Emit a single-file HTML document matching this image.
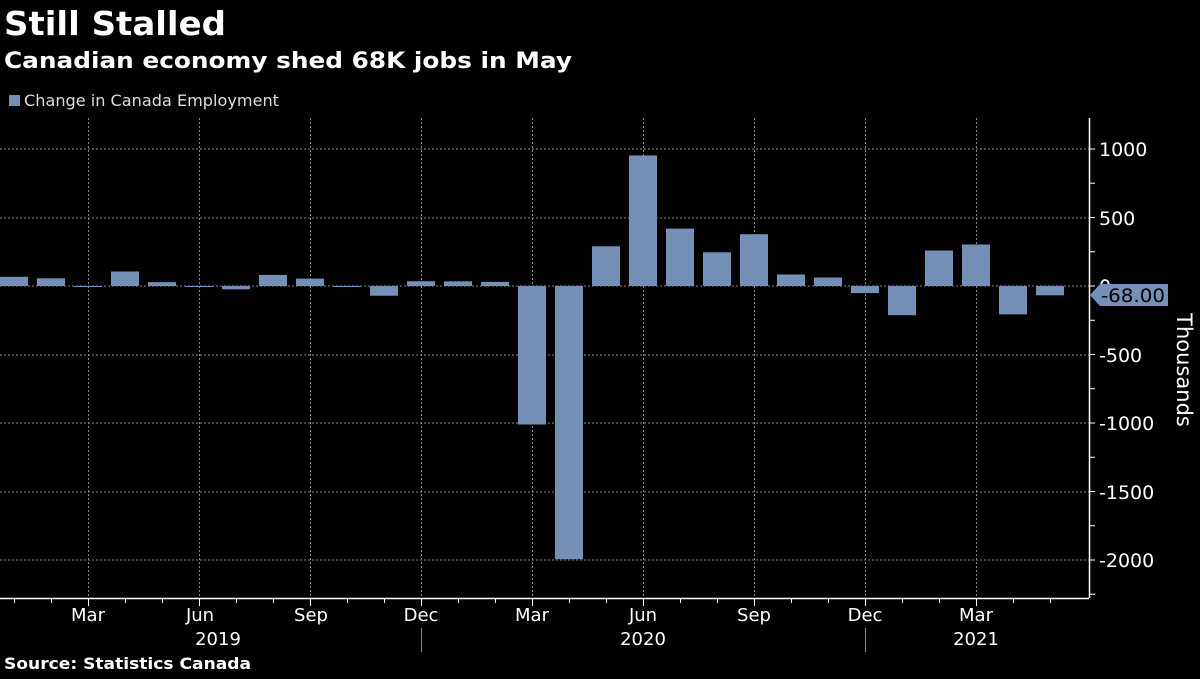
<!DOCTYPE html>
<html><head><meta charset="utf-8"><style>
body{margin:0;background:#000;width:1200px;height:675px;overflow:hidden;font-family:"DejaVu Sans",sans-serif;color:#fff}
</style></head><body>
<svg width="1200" height="675" xmlns="http://www.w3.org/2000/svg" font-family="DejaVu Sans, sans-serif">
<rect width="1200" height="675" fill="#000"/>
<text x="4" y="35" font-size="33" font-weight="bold" fill="#fff" textLength="222" lengthAdjust="spacingAndGlyphs">Still Stalled</text>
<text x="4" y="68" font-size="22" font-weight="bold" fill="#fff" textLength="568" lengthAdjust="spacingAndGlyphs">Canadian economy shed 68K jobs in May</text>
<rect x="9" y="95" width="11" height="11" fill="#7590b6"/>
<text x="24" y="106" font-size="16" fill="#ddd" textLength="255" lengthAdjust="spacingAndGlyphs">Change in Canada Employment</text>
<g stroke="#888" stroke-width="1" stroke-dasharray="2,2">
<line x1="0" x2="1089" y1="149" y2="149"/><line x1="0" x2="1089" y1="218" y2="218"/>
<line x1="0" x2="1089" y1="286" y2="286"/><line x1="0" x2="1089" y1="355" y2="355"/>
<line x1="0" x2="1089" y1="423" y2="423"/><line x1="0" x2="1089" y1="492" y2="492"/>
<line x1="0" x2="1089" y1="560" y2="560"/>
<line x1="88.5" x2="88.5" y1="118" y2="598"/><line x1="199.5" x2="199.5" y1="118" y2="598"/>
<line x1="310.5" x2="310.5" y1="118" y2="598"/><line x1="421.5" x2="421.5" y1="118" y2="598"/>
<line x1="532.5" x2="532.5" y1="118" y2="598"/><line x1="643.5" x2="643.5" y1="118" y2="598"/>
<line x1="754.5" x2="754.5" y1="118" y2="598"/><line x1="865.5" x2="865.5" y1="118" y2="598"/>
<line x1="976.5" x2="976.5" y1="118" y2="598"/>
</g>
<g fill="#7590b6" id="bars"></g>
<line x1="0" x2="1089" y1="598.5" y2="598.5" stroke="#fff" stroke-width="1.5"/>
<line x1="1089.5" x2="1089.5" y1="118" y2="598" stroke="#fff" stroke-width="1.5"/>
<g id="ticks" stroke="#fff"></g>
<g font-size="19" fill="#fff">
<text x="1099" y="156">1000</text><text x="1099" y="225">500</text><text x="1099" y="293">0</text>
<text x="1099" y="362">-500</text><text x="1099" y="430">-1000</text><text x="1099" y="499">-1500</text><text x="1099" y="567">-2000</text>
</g>
<polygon points="1090,295 1100,284 1168,284 1168,306 1100,306" fill="#7590b6"/>
<text x="1101" y="302" font-size="19" fill="#000" textLength="64" lengthAdjust="spacingAndGlyphs">-68.00</text>
<text transform="translate(1177,370) rotate(90)" font-size="21" fill="#fff" text-anchor="middle">Thousands</text>
<g font-size="18" fill="#fff" text-anchor="middle">
<text x="88" y="621">Mar</text><text x="200" y="621">Jun</text><text x="311" y="621">Sep</text><text x="421" y="621">Dec</text>
<text x="532" y="621">Mar</text><text x="643" y="621">Jun</text><text x="754" y="621">Sep</text><text x="865" y="621">Dec</text><text x="976" y="621">Mar</text>
<text x="218" y="645">2019</text><text x="643" y="645">2020</text><text x="976" y="645">2021</text>
</g>
<line x1="421.5" x2="421.5" y1="628" y2="652" stroke="#888"/>
<line x1="865.5" x2="865.5" y1="628" y2="652" stroke="#888"/>
<text x="4" y="669" font-size="16" font-weight="bold" fill="#fff" textLength="247" lengthAdjust="spacingAndGlyphs">Source: Statistics Canada</text>
<script>
var v=[67,56,-7,106,28,-2,-24,81,54,-2,-71,35,34,30,-1011,-1994,290,953,419,246,378,84,62,-52,-213,259,303,-207,-68];
var g=document.getElementById('bars'),t=document.getElementById('ticks'),ns='http://www.w3.org/2000/svg';
v.forEach(function(d,i){var cx=14+i*37,h=Math.abs(d)*0.137,r=document.createElementNS(ns,'rect');
r.setAttribute('x',cx-14);r.setAttribute('width',28);r.setAttribute('y',d>0?286-h:286);r.setAttribute('height',Math.max(h,1));g.appendChild(r);
var l=document.createElementNS(ns,'line');l.setAttribute('x1',cx+0.5);l.setAttribute('x2',cx+0.5);l.setAttribute('y1',598);l.setAttribute('y2',(i%3==2)?606:603);t.appendChild(l);});
[1000,750,500,250,0,-250,-500,-750,-1000,-1250,-1500,-1750,-2000,-2250].forEach(function(d){var y=286-d*0.137,l=document.createElementNS(ns,'line');
l.setAttribute('x1',1089);l.setAttribute('x2',1095);l.setAttribute('y1',y);l.setAttribute('y2',y);t.appendChild(l);});
</script>
</svg>
</body></html>
